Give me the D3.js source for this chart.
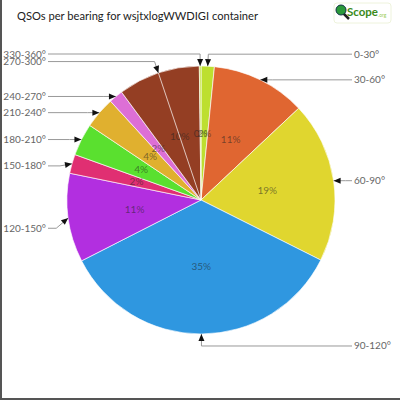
<!DOCTYPE html>
<html><head><meta charset="utf-8">
<script src="https://cdn.jsdelivr.net/npm/d3@7"></script>
<style>body{margin:0;background:#fff}svg{display:block}</style>
</head><body><svg id="c" width="400" height="400"></svg>
<script>
const title = "QSOs per bearing for wsjtxlogWWDIGI container";
const bearings = ["0-30°","30-60°","60-90°","90-120°","120-150°","150-180°","180-210°","210-240°","240-270°","270-300°","330-360°"];
const shares = [1.6, 11.4, 19.4, 35.1, 10.7, 2.3, 3.9, 3.8, 1.7, 9.9, 0.2];
const colors = ["#bddf2f","#e06631","#e0d62f","#2f97e0","#b22fe0","#e02f72","#5ae02f","#e0b02f","#dd6fd6","#943e23","#bddf2f"];

const svg = d3.select("#c");
const cx = 201, cy = 200, r = 134;
const font = "Lato, 'DejaVu Sans', sans-serif";

svg.append("line").attr("x1",1).attr("y1",0).attr("x2",1).attr("y2",400).attr("stroke","#555").attr("stroke-width",2);
svg.append("line").attr("x1",0).attr("y1",399).attr("x2",400).attr("y2",399).attr("stroke","#555").attr("stroke-width",2);

svg.append("text").attr("x",17).attr("y",20).attr("font-family",font).attr("font-size",12)
  .attr("fill","#222").attr("textLength",241).attr("lengthAdjust","spacingAndGlyphs").text(title);

// logo
const logo = svg.append("g");
logo.append("rect").attr("x",334).attr("y",3).attr("width",57).attr("height",20).attr("rx",3)
  .attr("fill","#fff").attr("stroke","#eef3dc");
logo.append("line").attr("x1",342).attr("y1",12).attr("x2",349).attr("y2",19).attr("stroke","#222").attr("stroke-width",2.5);
logo.append("circle").attr("cx",341).attr("cy",10).attr("r",5).attr("fill","#2a9a3a").attr("stroke","#134").attr("stroke-width",1);
logo.append("text").attr("x",347).attr("y",16).attr("font-family",font).attr("font-weight","bold")
  .attr("font-size",12).attr("fill","#3a8a1a").attr("textLength",31).attr("lengthAdjust","spacingAndGlyphs").text("Scope");
logo.append("text").attr("x",378).attr("y",17).attr("font-family",font).attr("font-size",5).attr("fill","#9c5").text(".org");

const total = d3.sum(shares);
const pie = d3.pie().sort(null).value(d => d)(shares);
const arc = d3.arc().innerRadius(0).outerRadius(r);

const g = svg.append("g").attr("transform",`translate(${cx},${cy})`);
g.selectAll("path").data(pie).join("path").attr("d",arc)
  .attr("fill",(d,i)=>colors[i]).attr("stroke","#fff").attr("stroke-width",0.8).attr("stroke-opacity",0.8);

// inner percentage labels
g.selectAll("text.p").data(pie).join("text").attr("class","p")
  .attr("transform", d => {
    const a = (d.startAngle + d.endAngle)/2;
    return `translate(${Math.sin(a)*r/2},${-Math.cos(a)*r/2})`;
  })
  .attr("text-anchor","middle").attr("dy","0.35em").attr("font-family",font).attr("font-size",10)
  .attr("fill","#222").attr("fill-opacity",0.55)
  .text(d => Math.round(d.value/total*100) + "%");

// leader lines
const lab = svg.append("g");
pie.forEach((d,i) => {
  const a = (d.startAngle + d.endAngle)/2;
  const s = Math.sin(a), c = Math.cos(a);
  const tx = cx + r*s, ty = cy - r*c;
  const left = tx < cx;
  let ly, ex;
  if (Math.abs(c) > 0.9) {
    ly = cy - (r+12)*c; ex = cx + (r+12)*s;
  } else {
    ly = ty + (left ? Math.max(0, Math.min(12, (ty - cy + 50)*0.15)) : 0);
    ex = tx + (left ? -12 : 12);
  }
  if (i === 9) {
    lab.append("line").attr("x1",cx).attr("y1",cy).attr("x2",tx).attr("y2",ty)
      .attr("stroke","#fff").attr("stroke-opacity",0.7).attr("stroke-width",1);
  }
  const sx = left ? 48 : 352;
  lab.append("polyline").attr("points",`${sx},${ly} ${ex},${ly} ${tx},${ty}`)
    .attr("fill","none").attr("stroke","#999").attr("stroke-width",1);
  const dx = tx - ex, dy = ty - ly, L = Math.hypot(dx,dy) || 1;
  const ux = dx/L, uy = dy/L, al = 7, aw = 3;
  const bx = tx - ux*al, by = ty - uy*al;
  lab.append("path").attr("d",`M${tx},${ty}L${bx - uy*aw},${by + ux*aw}L${bx + uy*aw},${by - ux*aw}Z`).attr("fill","#111");
  lab.append("text").attr("x", left ? 46 : 354).attr("y", ly).attr("dy","0.35em")
    .attr("text-anchor", left ? "end" : "start").attr("font-family",font).attr("font-size",10)
    .attr("fill","#666").text(bearings[i]);
});
</script></body></html>
